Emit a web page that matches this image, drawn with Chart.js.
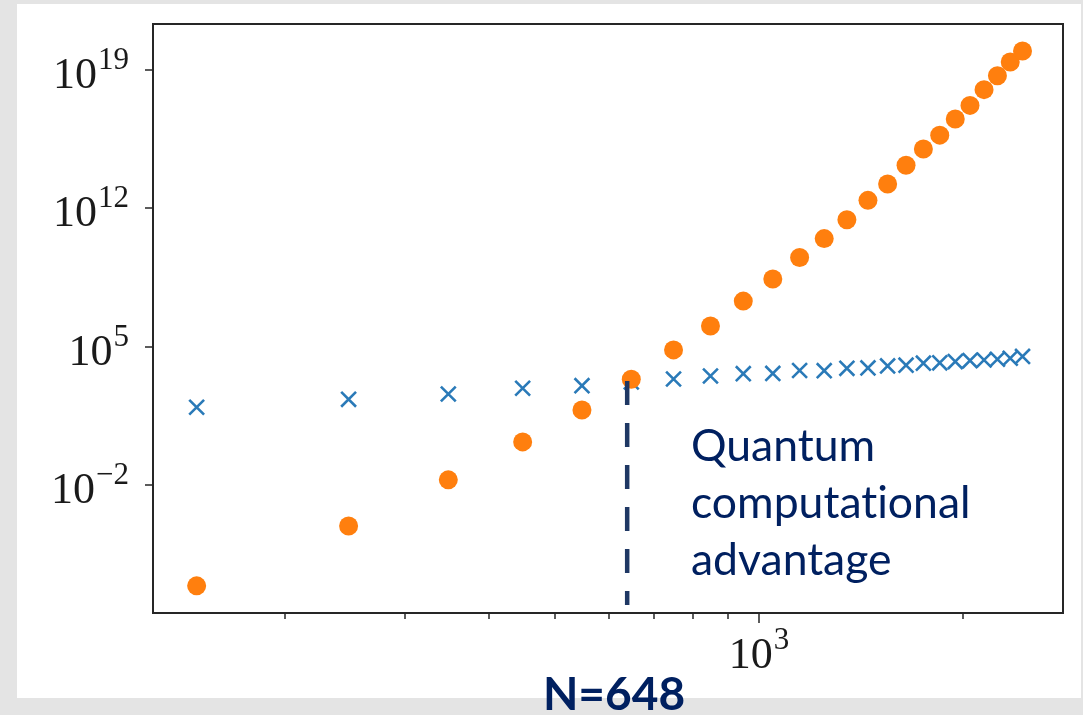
<!DOCTYPE html>
<html>
<head>
<meta charset="utf-8">
<script src="https://cdn.jsdelivr.net/npm/chart.js@4"></script>
<style>
  body { margin: 0; width: 1083px; height: 715px; overflow: hidden; position: relative; background: #e4e4e4; }
  #panel { position: absolute; left: 17px; top: 4px; width: 1064px; height: 694px; background: #fff; }
  #wrap { position: absolute; left: 17px; top: 4px; width: 1064px; height: 694px; }
  .note { position: absolute; left: 691px; top: 415px; color: #002060; font-variant-ligatures: none;
          font-family: Lato, 'Open Sans', sans-serif; font-size: 44.5px; line-height: 57px; }
  .nlabel { position: absolute; left: 514px; width: 200px; top: 668px; text-align: center; color: #002060;
            font-family: Lato, 'Open Sans', sans-serif; font-weight: bold; font-size: 46px; line-height: 50px; }
</style>
</head>
<body>
<div id="panel"></div>
<div id="wrap"><canvas id="chart" width="1064" height="694"></canvas></div>
<div class="note">Quantum<br>computational<br>advantage</div>
<div class="nlabel">N=648</div>

<script>
/* problem size N (x axis) */
const sizes = [148, 248, 348, 448, 548, 648, 748, 848, 948, 1048, 1148, 1248,
               1348, 1448, 1548, 1648, 1748, 1848, 1948, 2048, 2148, 2248, 2348, 2448];

/* quantum cost (blue crosses) */
const quantumCost = [85, 214, 398, 776, 1050, 1620, 2290, 3240, 4270, 4370, 6170, 6000,
                     7940, 8320, 10500, 11500, 14500, 15100, 17400, 19500, 20900, 22900, 25700, 31600];

/* classical cost (orange dots) */
const classicalCost = [7.8e-8, 8.3e-5, 1.8e-2, 1.5, 62, 2.2e3, 6.8e4, 1.1e6, 2.0e7, 2.6e8, 3.2e9, 2.9e10,
                       2.6e11, 2.5e12, 1.7e13, 1.5e14, 1.0e15, 5.0e15, 3.3e16, 1.6e17, 1.0e18, 5.1e18, 2.5e19, 9.1e19];

/* crossover marker (dashed line) */
const markerX = 639;
const markerY = [1.8e3, 8.5e-9];

/* axes */
const xRange = [127.6, 2809];
const yRange = [3.3e-9, 2.1e21];
const yTickExps = [-2, 5, 12, 19];
const xMinorTicks = [200, 300, 400, 500, 600, 700, 800, 900, 2000];
const xMajorExps = [3];

const SERIF = "'Liberation Serif', 'DejaVu Serif', serif";

function drawPow(ctx, exp, xRight, yBase, baseSize, expSize, align) {
  const expTxt = exp < 0 ? '\u2212' + Math.abs(exp) : String(exp);
  ctx.font = `${baseSize}px ${SERIF}`;
  const wBase = ctx.measureText('10').width;
  ctx.font = `${expSize}px ${SERIF}`;
  const wExp = ctx.measureText(expTxt).width;
  let left = align === 'center' ? xRight - (wBase + wExp + 1) / 2 : xRight - wBase - wExp - 1;
  ctx.textAlign = 'left';
  ctx.textBaseline = 'alphabetic';
  ctx.font = `${baseSize}px ${SERIF}`;
  ctx.fillText('10', left, yBase);
  ctx.font = `${expSize}px ${SERIF}`;
  ctx.fillText(expTxt, left + wBase + 1, yBase - 19);
}

const axesFrame = {
  id: 'axesFrame',
  afterDraw(chart) {
    const { ctx, chartArea: a, scales: { x, y } } = chart;
    ctx.save();
    ctx.strokeStyle = '#262626';
    ctx.fillStyle = '#1a1a1a';
    ctx.lineWidth = 2;
    ctx.strokeRect(a.left, a.top, a.right - a.left, a.bottom - a.top);

    ctx.beginPath();
    yTickExps.forEach(e => {
      const py = Math.round(y.getPixelForValue(Math.pow(10, e)));
      ctx.moveTo(a.left - 8, py); ctx.lineTo(a.left, py);
    });
    xMinorTicks.forEach(v => {
      const px = Math.round(x.getPixelForValue(v));
      ctx.moveTo(px, a.bottom); ctx.lineTo(px, a.bottom + 6);
    });
    xMajorExps.forEach(e => {
      const px = Math.round(x.getPixelForValue(Math.pow(10, e)));
      ctx.moveTo(px, a.bottom); ctx.lineTo(px, a.bottom + 10);
    });
    ctx.lineWidth = 1.5;
    ctx.stroke();

    yTickExps.forEach(e => {
      const py = y.getPixelForValue(Math.pow(10, e));
      drawPow(ctx, e, a.left - 24, py + 18, 44, 31, 'right');
    });
    xMajorExps.forEach(e => {
      const px = x.getPixelForValue(Math.pow(10, e));
      drawPow(ctx, e, px, a.bottom + 55, 44, 31, 'center');
    });
    ctx.restore();
  }
};

new Chart(document.getElementById('chart'), {
  type: 'scatter',
  data: {
    datasets: [
      {
        type: 'line',
        data: markerY.map(v => ({ x: markerX, y: v })),
        borderColor: '#1f3864',
        borderWidth: 4.5,
        borderDash: [24, 18],
        borderCapStyle: 'butt',
        pointRadius: 0,
        fill: false,
      },
      {
        data: sizes.map((n, i) => ({ x: n, y: classicalCost[i] })),
        pointStyle: 'circle',
        pointRadius: 9.5,
        backgroundColor: '#ff7f0e',
        borderWidth: 0,
      },
      {
        data: sizes.map((n, i) => ({ x: n, y: quantumCost[i] })),
        pointStyle: 'crossRot',
        pointRadius: 10.5,
        borderColor: '#2a7ab8',
        borderWidth: 2.6,
      },
    ],
  },
  options: {
    responsive: false,
    animation: false,
    events: [],
    layout: { padding: { left: 136, top: 20, right: 18, bottom: 85 } },
    plugins: { legend: { display: false }, tooltip: { enabled: false } },
    scales: {
      x: { type: 'logarithmic', display: false, min: xRange[0], max: xRange[1] },
      y: { type: 'logarithmic', display: false, min: yRange[0], max: yRange[1] },
    },
  },
  plugins: [axesFrame],
});
</script>
</body>
</html>
